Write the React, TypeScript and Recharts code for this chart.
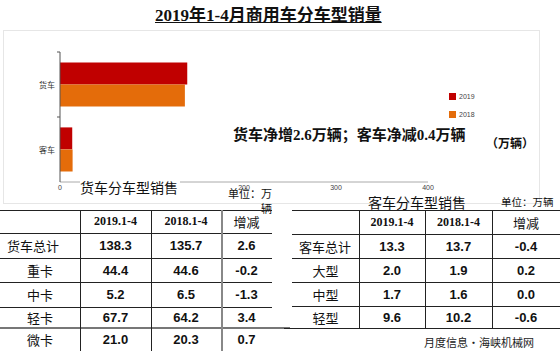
import React from 'react';
import { BarChart, Bar, XAxis, YAxis, Legend } from 'recharts';

// ---- chart data ----
const categories = ['货车', '客车'];
const sales2019 = [138.3, 13.3];
const sales2018 = [135.7, 13.7];
const xTicks = [0, 100, 200, 300, 400];
const legendOrder = ['2019', '2018'];

// ---- table data ----
const tableHeader = ['', '2019.1-4', '2018.1-4', '增减'];
const truckTypes = ['货车总计', '重卡', '中卡', '轻卡', '微卡'];
const truck2019 = ['138.3', '44.4', '5.2', '67.7', '21.0'];
const truck2018 = ['135.7', '44.6', '6.5', '64.2', '20.3'];
const truckDiff = ['2.6', '-0.2', '-1.3', '3.4', '0.7'];

const busTypes = ['客车总计', '大型', '中型', '轻型'];
const bus2019 = ['13.3', '2.0', '1.7', '9.6'];
const bus2018 = ['13.7', '1.9', '1.6', '10.2'];
const busDiff = ['-0.4', '0.2', '0.0', '-0.6'];

const chartData = categories.map((name, i) => ({ name, y2019: sales2019[i], y2018: sales2018[i] }));

const CJK = '"Noto Sans CJK SC", "Noto Sans", sans-serif';
const SERIF = '"Liberation Serif", "Noto Sans CJK SC", serif';
const SANS = '"Liberation Sans", Arial, "Noto Sans CJK SC", sans-serif';

const CatTick = (props: any) => {
  const { x, y, payload } = props;
  const half = payload && typeof payload.offset === 'number' ? payload.offset : 0;
  return (
    <g>
      <line x1={x + 2} x2={x + 5} y1={y - half} y2={y - half} stroke="#555" />
      <text x={x} y={y} dy={3} textAnchor="end" fontSize={8} fill="#333" fontFamily={CJK}>
        {payload.value}
      </text>
    </g>
  );
};

const renderLegend = (props: any) => {
  const items = [...(props.payload || [])].sort(
    (a: any, b: any) => legendOrder.indexOf(String(a.value)) - legendOrder.indexOf(String(b.value))
  );
  return (
    <div>
      {items.map((p: any) => (
        <div key={p.value} style={{ display: 'flex', alignItems: 'center', height: 18 }}>
          <span style={{ display: 'inline-block', width: 7, height: 7, background: p.color, marginRight: 3 }} />
          <span style={{ fontSize: 7, color: '#444', fontFamily: SANS }}>{p.value}</span>
        </div>
      ))}
    </div>
  );
};

type TableProps = {
  cols: number[];
  rowsY: number[];
  labels: string[];
  a: string[];
  b: string[];
  c: string[];
};

const cellBase: React.CSSProperties = {
  position: 'absolute',
  display: 'flex',
  alignItems: 'center',
  justifyContent: 'center',
  whiteSpace: 'nowrap',
  color: '#111',
};

function TableCells({ cols, rowsY, labels, a, b, c }: TableProps) {
  const cells: React.ReactNode[] = [];
  tableHeader.forEach((h, ci) => {
    if (!h) return;
    cells.push(
      <div
        key={'h' + ci}
        style={{
          ...cellBase,
          left: cols[ci],
          width: cols[ci + 1] - cols[ci],
          top: rowsY[0],
          height: rowsY[1] - rowsY[0],
          fontFamily: ci === 3 ? CJK : SERIF,
          fontWeight: ci === 3 ? 400 : 700,
          fontSize: ci === 3 ? 13 : 12,
        }}
      >
        {h}
      </div>
    );
  });
  labels.forEach((lab, ri) => {
    const top = rowsY[ri + 1];
    const height = rowsY[ri + 2] - rowsY[ri + 1];
    const vals = [lab, a[ri], b[ri], c[ri]];
    vals.forEach((v, ci) => {
      const isLabel = ci === 0;
      cells.push(
        <div
          key={ri + '-' + ci}
          style={{
            ...cellBase,
            left: cols[ci],
            width: cols[ci + 1] - cols[ci],
            top,
            height,
            justifyContent: isLabel && ri === 0 ? 'flex-start' : 'center',
            paddingLeft: isLabel && ri === 0 ? 7 : 0,
            boxSizing: 'border-box',
            fontFamily: isLabel ? CJK : SANS,
            fontWeight: isLabel ? 400 : 700,
            fontSize: 13,
          }}
        >
          {v}
        </div>
      );
    });
  });
  return <>{cells}</>;
}

const hLine = (key: string, x1: number, x2: number, y: number, h = 1, color = '#222') => (
  <div key={key} style={{ position: 'absolute', left: x1, top: y, width: x2 - x1, height: h, background: color }} />
);
const vLine = (key: string, x: number, y1: number, y2: number, w = 1, color = '#222') => (
  <div key={key} style={{ position: 'absolute', left: x, top: y1, width: w, height: y2 - y1, background: color }} />
);

export default function App() {
  const leftCols = [0, 80, 151, 221, 272];
  const leftRows = [210, 233, 258, 282, 307, 328, 351];
  const rightCols = [292, 359, 425, 492, 560];
  const rightRows = [210, 234, 258, 282, 306, 328];

  return (
    <div
      style={{
        position: 'absolute',
        left: 0,
        top: 0,
        width: 560,
        height: 351,
        background: '#fff',
        overflow: 'hidden',
        fontFamily: CJK,
      }}
    >
      {/* chart frame */}
      <div style={{ position: 'absolute', left: 3, top: 30, width: 535, height: 172, border: '1px solid #e6e6e6' }} />

      <div style={{ position: 'absolute', left: 0, top: 0 }}>
        <BarChart
          layout="vertical"
          width={560}
          height={200}
          data={chartData}
          margin={{ top: 52, right: 132, left: 20, bottom: 4 }}
          barCategoryGap="16%"
          barGap={0}
        >
          <XAxis
            type="number"
            domain={[0, 400]}
            ticks={xTicks}
            interval={0}
            height={14}
            tickLine={false}
            tickSize={0}
            tickMargin={3}
            axisLine={{ stroke: '#aaa' }}
            tick={{ fontSize: 7, fill: '#444', fontFamily: SANS }}
          />
          <YAxis
            type="category"
            dataKey="name"
            width={40}
            tickSize={3}
            tickMargin={2}
            tickLine={false}
            axisLine={{ stroke: '#555' }}
            tick={<CatTick />}
          />
          <Legend
            layout="vertical"
            align="center"
            verticalAlign="middle"
            wrapperStyle={{ position: 'absolute', left: 449, top: 87, width: 40 }}
            content={renderLegend}
          />
          <Bar dataKey="y2019" name="2019" fill="#C00000" isAnimationActive={false} />
          <Bar dataKey="y2018" name="2018" fill="#E46C0A" isAnimationActive={false} />
        </BarChart>
      </div>

      {/* title */}
      <div
        style={{
          position: 'absolute',
          left: 155,
          top: 6,
          lineHeight: '20px',
          fontSize: 17,
          fontWeight: 700,
          fontFamily: SERIF,
          textDecoration: 'underline',
          whiteSpace: 'nowrap',
          color: '#111',
        }}
      >
        2019年1-4月商用车分车型销量
      </div>

      {/* annotation */}
      <div
        style={{
          position: 'absolute',
          left: 233,
          top: 125,
          lineHeight: '20px',
          fontSize: 15,
          fontWeight: 700,
          fontFamily: SERIF,
          whiteSpace: 'nowrap',
          color: '#111',
        }}
      >
        货车净增2.6万辆；客车净减0.4万辆
      </div>
      <div
        style={{
          position: 'absolute',
          left: 486,
          top: 135,
          lineHeight: '18px',
          fontSize: 12,
          fontWeight: 700,
          fontFamily: SERIF,
          whiteSpace: 'nowrap',
          color: '#111',
        }}
      >
        （万辆）
      </div>

      {/* table titles */}
      <div
        style={{
          position: 'absolute',
          left: 80,
          top: 178,
          lineHeight: '18px',
          fontSize: 14,
          background: '#fff',
          whiteSpace: 'nowrap',
          color: '#111',
          padding: '0 2px 0 0',
        }}
      >
        货车分车型销售
      </div>
      <div
        style={{
          position: 'absolute',
          left: 226,
          top: 186,
          width: 46,
          lineHeight: '15px',
          fontSize: 11,
          textAlign: 'right',
          color: '#111',
        }}
      >
        单位：万辆
      </div>
      <div
        style={{
          position: 'absolute',
          left: 368,
          top: 193,
          lineHeight: '18px',
          fontSize: 14,
          whiteSpace: 'nowrap',
          color: '#111',
        }}
      >
        客车分车型销售
      </div>
      <div
        style={{
          position: 'absolute',
          left: 501,
          top: 195,
          lineHeight: '14px',
          fontSize: 10.5,
          whiteSpace: 'nowrap',
          color: '#111',
        }}
      >
        单位：万辆
      </div>

      {/* left table lines */}
      {[210, 233, 258, 282, 307].map((y, i) => hLine('lh' + i, 0, 272, y))}
      {hLine('lhb', 0, 290, 327, 2, '#777')}
      {vLine('lv1', 80, 210, 351)}
      {vLine('lv2', 151, 210, 351)}
      {vLine('lv3', 221, 210, 351, 2, '#888')}
      <TableCells cols={leftCols} rowsY={leftRows} labels={truckTypes} a={truck2019} b={truck2018} c={truckDiff} />

      {/* right table lines */}
      {[210, 234, 258, 282, 306].map((y, i) => hLine('rh' + i, 292, 560, y))}
      {hLine('rhb', 284, 560, 328)}
      {vLine('rv1', 359, 210, 328)}
      {vLine('rv2', 425, 210, 328)}
      {vLine('rv3', 492, 210, 328)}
      <TableCells cols={rightCols} rowsY={rightRows} labels={busTypes} a={bus2019} b={bus2018} c={busDiff} />

      {/* footer */}
      <div
        style={{
          position: 'absolute',
          left: 424,
          top: 336,
          lineHeight: '13px',
          fontSize: 11,
          whiteSpace: 'nowrap',
          color: '#222',
        }}
      >
        月度信息·海峡机械网
      </div>
    </div>
  );
}
